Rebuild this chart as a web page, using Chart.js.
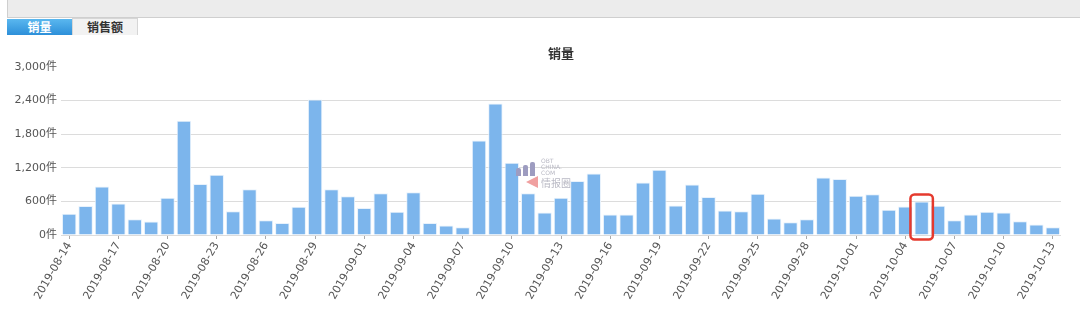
<!DOCTYPE html>
<html>
<head>
<meta charset="utf-8">
<script src="https://cdn.jsdelivr.net/npm/chart.js@4"></script>
<style>
  body { margin: 0; width: 1080px; height: 311px; overflow: hidden; background: #fff; position: relative;
         font-family: "DejaVu Sans", "Noto Sans CJK SC", sans-serif; }
  .topbar { position: absolute; left: 7px; top: 0; width: 1073px; height: 17px; background: #ececec;
            border-left: 1px solid #cfcfcf; border-bottom: 1px solid #cfcfcf; }
  .tab { position: absolute; top: 19px; height: 16px; line-height: 16px; font-size: 12px; font-weight: bold;
         text-align: center; font-family: "Noto Sans CJK SC", sans-serif; }
  .tab.on { left: 7px; width: 65px; color: #fff; background: linear-gradient(#5ab7ef, #2d8fd9); }
  .tab.off { left: 72px; width: 64px; color: #333; background: #f2f2f2; border: 1px solid #d6d6d6;
             border-bottom: none; top: 18px; }
  .title { position: absolute; left: 461px; width: 200px; top: 43px; text-align: center; font-size: 13px;
           font-weight: bold; color: #333; font-family: "Noto Sans CJK SC", sans-serif; }
  .wm { position: absolute; left: 541px; top: 158px; font-size: 6px; line-height: 6px; color: #b9b9c4;
        font-family: "DejaVu Sans", sans-serif; }
  .wm2 { position: absolute; left: 541px; top: 175px; font-size: 10px; color: #b9b9c4;
         font-family: "Noto Sans CJK SC", sans-serif; }
  .wmbars { position: absolute; left: 516px; top: 162px; width: 22px; height: 14px; }
  .wmbars i { position: absolute; bottom: 0; width: 5px; background: #9d9cc0; border-radius: 2px 2px 0 0; }
  .wmtri { position: absolute; left: 526px; top: 176px; width: 0; height: 0; border-top: 6px solid transparent;
           border-bottom: 6px solid transparent; border-right: 12px solid #f0a0a0; }
  canvas { position: absolute; left: 0; top: 0; }
</style>
</head>
<body>
<div class="topbar"></div>
<div class="tab on">销量</div>
<div class="tab off">销售额</div>
<canvas id="myChart" width="1080" height="311"></canvas>
<div class="title">销量</div>
<div class="wmbars"><i style="left:0;height:8px"></i><i style="left:7px;height:11px"></i><i style="left:14px;height:14px"></i></div>
<div class="wmtri"></div>
<div class="wm">OBT<br>CHINA.<br>COM</div>
<div class="wm2">情报圈</div>
<script>
const dates = [
  "2019-08-14", "2019-08-15", "2019-08-16", "2019-08-17", "2019-08-18", "2019-08-19", "2019-08-20",
  "2019-08-21", "2019-08-22", "2019-08-23", "2019-08-24", "2019-08-25", "2019-08-26", "2019-08-27",
  "2019-08-28", "2019-08-29", "2019-08-30", "2019-08-31", "2019-09-01", "2019-09-02", "2019-09-03",
  "2019-09-04", "2019-09-05", "2019-09-06", "2019-09-07", "2019-09-08", "2019-09-09", "2019-09-10",
  "2019-09-11", "2019-09-12", "2019-09-13", "2019-09-14", "2019-09-15", "2019-09-16", "2019-09-17",
  "2019-09-18", "2019-09-19", "2019-09-20", "2019-09-21", "2019-09-22", "2019-09-23", "2019-09-24",
  "2019-09-25", "2019-09-26", "2019-09-27", "2019-09-28", "2019-09-29", "2019-09-30", "2019-10-01",
  "2019-10-02", "2019-10-03", "2019-10-04", "2019-10-05", "2019-10-06", "2019-10-07", "2019-10-08",
  "2019-10-09", "2019-10-10", "2019-10-11", "2019-10-12", "2019-10-13"
];
const sales = [
  378, 516, 864, 564, 282, 240, 666, 2040, 912, 1074,
  426, 816, 264, 216, 504, 2420, 816, 690, 480, 744,
  414, 762, 216, 168, 138, 1686, 2346, 1290, 744, 402,
  666, 966, 1098, 366, 366, 936, 1164, 528, 900, 678,
  438, 426, 738, 294, 228, 282, 1026, 1002, 702, 726,
  450, 510, 600, 522, 264, 366, 414, 402, 246, 186, 138
];
const yTicks = [0, 600, 1200, 1800, 2400, 3000];
const highlightIndex = 52;

const highlightBox = {
  id: "highlightBox",
  afterDatasetsDraw(chart) {
    const bar = chart.getDatasetMeta(0).data[highlightIndex];
    const { x, y, width, base } = bar.getProps(["x", "y", "width", "base"], true);
    const c = chart.ctx;
    c.save();
    c.strokeStyle = "#e53a2e";
    c.lineWidth = 2.5;
    c.beginPath();
    c.roundRect(x - width / 2 - 4, y - 7, width + 8, base - y + 12, 4);
    c.stroke();
    c.restore();
  },
};

const ctx = document.getElementById("myChart").getContext("2d");
const myChart = new Chart(ctx, {
  type: "bar",
  data: {
    labels: dates,
    datasets: [
      {
        label: "销量",
        data: sales,
        backgroundColor: "#7cb5ec",
        borderColor: "#e8f2fc",
        borderWidth: 1,
        barPercentage: 0.88,
        categoryPercentage: 1,
      },
    ],
  },
  options: {
    responsive: false,
    animation: false,
    layout: { padding: { top: 67, right: 19, bottom: 0, left: 0 } },
    plugins: { legend: { display: false }, tooltip: { enabled: false } },
    scales: {
      x: {
        afterFit: (s) => { s.height = 76; },
        border: { display: false },
        grid: {
          offset: false,
          drawOnChartArea: false,
          tickLength: 4,
          color: (c) => (c.index % 3 === 0 ? "#aaa" : "transparent"),
        },
        ticks: {
          autoSkip: false,
          minRotation: 60,
          maxRotation: 60,
          padding: 1,
          color: "#555",
          font: { family: "DejaVu Sans", size: 11 },
          callback: (v, i) => (i % 3 === 0 ? dates[i] : ""),
        },
      },
      y: {
        min: 0,
        max: 3000,
        afterFit: (s) => { s.width = 61; },
        afterBuildTicks: (s) => { s.ticks = yTicks.map((v) => ({ value: v })); },
        border: { display: false },
        grid: {
          drawTicks: false,
          color: (c) => (c.tick && c.tick.value === 3000 ? "transparent" : "#dcdcdc"),
        },
        ticks: {
          padding: 4,
          color: "#555",
          font: { family: "'DejaVu Sans', 'Noto Sans CJK SC'", size: 11 },
          callback: (v) => v.toLocaleString("en-US") + "件",
        },
      },
    },
  },
  plugins: [highlightBox],
});
</script>
</body>
</html>
